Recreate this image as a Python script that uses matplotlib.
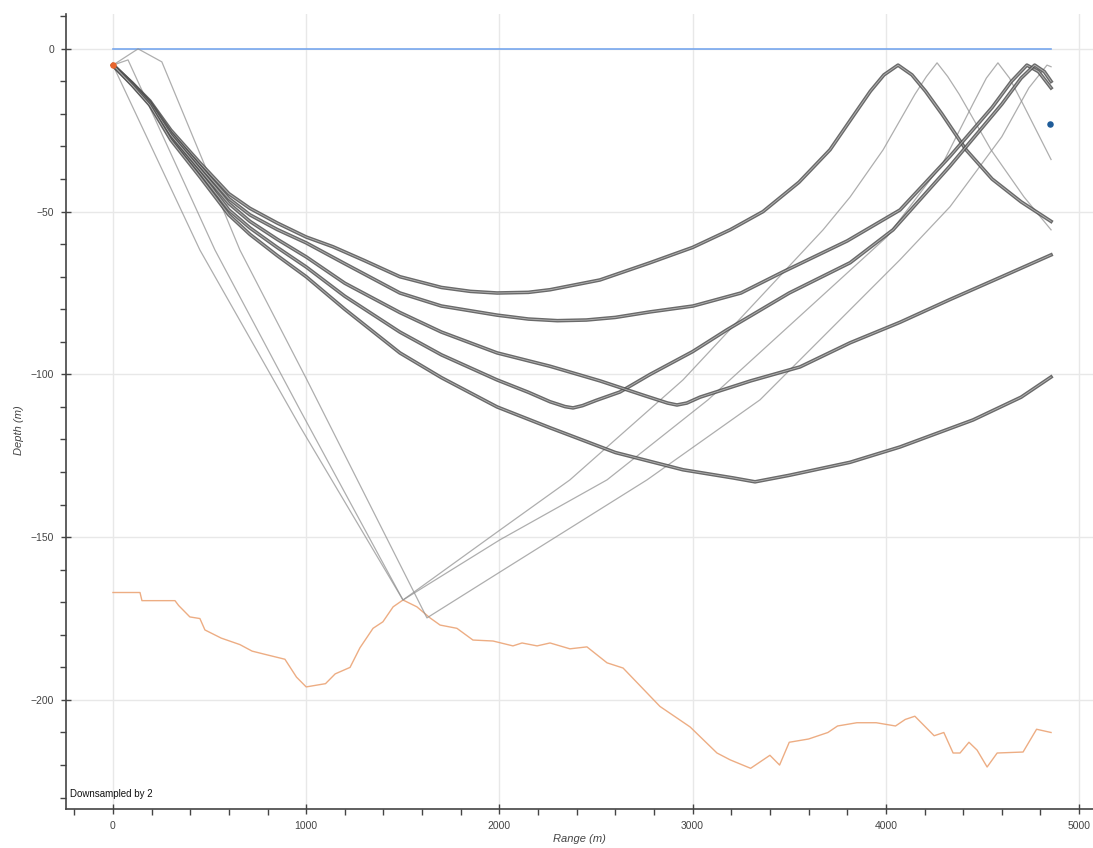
import matplotlib
matplotlib.use("Agg")
import matplotlib.pyplot as plt
import matplotlib.patheffects as pe
from matplotlib.ticker import MultipleLocator

# ---------------- data ----------------
source = (0, -5)
receiver = (4850, -23)
surface_range = [0, 4855]
surface_depth = [0, 0]

bathy_range = [0, 140, 150, 321, 340, 398, 450, 476, 560, 657, 720, 787, 890, 950,
               1000, 1100, 1150, 1227, 1278, 1346, 1397, 1450, 1501, 1573, 1641,
               1693, 1780, 1863, 1967, 2070, 2117, 2195, 2262, 2365, 2453, 2557,
               2640, 2831, 2987, 3126, 3194, 3300, 3350, 3400, 3450, 3500, 3600,
               3700, 3750, 3850, 3950, 4050, 4100, 4150, 4200, 4250, 4300, 4348,
               4384, 4430, 4472, 4524, 4576, 4710, 4746, 4780, 4855]
bathy_depth = [-167, -167, -169.5, -169.5, -171, -174.5, -175, -178.5, -181, -183,
               -185, -186, -187.5, -193, -196, -195, -192, -190, -184, -178, -176,
               -171.4, -169.3, -171.4, -174.8, -177, -178, -181.6, -181.9, -183.4,
               -182.5, -183.4, -182.5, -184.3, -183.7, -188.6, -190.2, -202, -208.3,
               -216.3, -218.4, -221, -219, -217, -220, -213, -212, -210, -208, -207,
               -207, -208, -206, -205, -208, -211, -210, -216.3, -216.3, -213,
               -215.4, -220.6, -216.3, -216, -212.4, -209, -210]

# refracted eigenray families (dark)
ray_a_range = [0, 100, 191, 300, 450, 600, 709, 850, 1000, 1139, 1300, 1485, 1700,
               1850, 1988, 2150, 2262, 2520, 2780, 3000, 3194, 3364, 3550, 3711,
               3850, 3920, 3990, 4063, 4135, 4205, 4290, 4415, 4550, 4700, 4855]
ray_a_depth = [-5, -10.5, -16, -25, -35, -44.5, -49, -53.5, -57.8, -60.8, -65, -70,
               -73.3, -74.5, -75, -74.8, -74, -71, -65.7, -61, -55.6, -50, -41, -31,
               -19, -13, -8, -5, -8, -13, -20, -31, -40, -47, -53]

ray_b_range = [0, 100, 191, 300, 450, 600, 709, 850, 1000, 1200, 1485, 1700, 1988,
               2150, 2300, 2450, 2600, 2780, 3002, 3250, 3468, 3800, 4073, 4332,
               4550, 4650, 4730, 4790, 4855]
ray_b_depth = [-5, -10.7, -16.3, -25.8, -36, -46, -51, -55.5, -59.6, -66, -75, -79,
               -81.8, -83, -83.5, -83.3, -82.5, -80.8, -79, -75, -68.5, -59, -49.5,
               -33, -18, -10, -5, -7, -12]

ray_c_range = [0, 100, 191, 300, 450, 600, 709, 850, 1000, 1200, 1485, 1700, 1988,
               2150, 2262, 2340, 2381, 2430, 2500, 2624, 2780, 3000, 3178, 3500,
               3815, 4037, 4332, 4600, 4700, 4770, 4820, 4855]
ray_c_depth = [-5, -11, -17, -27.3, -38, -49.5, -55, -61, -67, -76, -87, -94,
               -101.7, -105.5, -108.4, -109.9, -110.3, -109.6, -108, -105.4, -100,
               -93, -86.3, -75, -65.7, -55.6, -36, -17, -9, -5, -7, -10]

ray_d_range = [0, 100, 191, 300, 450, 600, 709, 850, 1000, 1200, 1485, 1700, 1988,
               2262, 2521, 2750, 2870, 2919, 2970, 3038, 3300, 3556, 3815, 4073,
               4332, 4600, 4855]
ray_d_depth = [-5, -10.8, -16.6, -26.5, -37, -47.5, -53, -58.5, -63.9, -72, -81,
               -87, -93.4, -97.5, -102, -106.5, -108.8, -109.4, -108.8, -107, -102,
               -97.7, -90.3, -84, -77, -70, -63.3]

ray_e_range = [0, 100, 191, 300, 450, 600, 709, 850, 1000, 1200, 1485, 1700, 1988,
               2262, 2600, 2950, 3209, 3323, 3500, 3815, 4073, 4451, 4700, 4855]
ray_e_depth = [-5, -11.2, -17.3, -28, -39.3, -51, -57, -63.5, -70, -80, -93.4, -101,
               -110, -116.4, -124, -129.3, -131.8, -133, -131, -127, -122.3, -114,
               -107, -100.8]

# bottom-bounced eigenrays (light)
ray_f_range = [0, 450, 968, 1501, 2003, 2365, 2950, 3675, 3815, 3986, 4150, 4210,
               4265, 4320, 4380, 4544, 4715, 4855]
ray_f_depth = [-5, -61.8, -116, -169.3, -147.8, -132.4, -101.7, -55.6, -45.5, -31,
               -14, -8.5, -4.3, -8.5, -14, -31, -45.5, -55.6]

ray_g_range = [0, 78, 528, 968, 1501, 2003, 2557, 3080, 4006, 4296, 4450, 4520,
               4580, 4640, 4710, 4855]
ray_g_depth = [-5, -3.4, -61.8, -110.9, -169.3, -150.8, -132.4, -107.8, -57.7, -35,
               -17, -9, -4.3, -9, -17, -34]

ray_h_range = [0, 130, 253, 657, 1004, 1625, 2003, 2764, 3349, 4073, 4332, 4600,
               4740, 4834, 4855]
ray_h_depth = [-5, 0, -4, -61.8, -101.7, -174.8, -160.7, -132.4, -107.8, -64.8,
               -48.5, -27, -12, -5, -5.5]

dark_rays = [(ray_a_range, ray_a_depth), (ray_b_range, ray_b_depth),
             (ray_c_range, ray_c_depth), (ray_d_range, ray_d_depth),
             (ray_e_range, ray_e_depth)]
light_rays = [(ray_f_range, ray_f_depth), (ray_g_range, ray_g_depth),
              (ray_h_range, ray_h_depth)]

x_ticks = [0, 1000, 2000, 3000, 4000, 5000]
y_ticks = [0, -50, -100, -150, -200]

# ---------------- figure ----------------
plt.rcParams['font.family'] = ['Liberation Sans', 'DejaVu Sans']
fig = plt.figure(figsize=(10.93, 8.48), dpi=100)
ax = fig.add_axes([66 / 1093, 39 / 848, 1 - 66 / 1093, 795 / 848])

ax.plot(surface_range, surface_depth, color='#6a9fee', lw=1.2, alpha=0.9, zorder=2)
ax.plot(bathy_range, bathy_depth, color='#eba476', lw=1.0, alpha=0.9, zorder=2)

for r, d in light_rays:
    ax.plot(r, d, color='#939393', lw=0.9, alpha=0.75, zorder=3,
            solid_joinstyle='round')

# each strong arrival is a pair of nearly coincident rays: dark edges, pale core
double = [pe.Stroke(linewidth=2.6, foreground='#505050', alpha=0.85), pe.Normal()]
for r, d in dark_rays:
    ax.plot(r, d, color='#b5b5b5', lw=0.6, zorder=4, path_effects=double,
            solid_joinstyle='round')

ax.scatter([source[0]], [source[1]], s=22, color='#e8642c', zorder=5, linewidths=0)
ax.scatter([receiver[0]], [receiver[1]], s=22, color='#1f5c99', zorder=5, linewidths=0)

ax.set_xlim(-243, 5072)
ax.set_ylim(-233.5, 10.7)
ax.set_xticks(x_ticks)
ax.set_yticks(y_ticks)
ax.xaxis.set_minor_locator(MultipleLocator(200))
ax.yaxis.set_minor_locator(MultipleLocator(10))

ax.grid(True, which='major', color='#e8e8e8', lw=1.0)
ax.set_axisbelow(True)
for side in ('top', 'right'):
    ax.spines[side].set_visible(False)
for side in ('left', 'bottom'):
    ax.spines[side].set_color('#444444')
    ax.spines[side].set_linewidth(1.2)

ax.tick_params(which='major', direction='inout', length=7, width=1, color='#444444',
               labelsize=7.5, labelcolor='#444444', pad=5)
ax.tick_params(which='minor', direction='out', length=4, width=1, color='#444444')

ax.set_xlabel('Range (m)', fontsize=8, style='italic', color='#444444', labelpad=2)
ax.set_ylabel('Depth (m)', fontsize=8, style='italic', color='#444444')
ax.yaxis.set_label_coords(-0.041, 0.477)

ax.text(0.004, 0.012, 'Downsampled by 2', transform=ax.transAxes, fontsize=7,
        color='#111111', ha='left', va='bottom')

fig.savefig('out.png', dpi=100)
